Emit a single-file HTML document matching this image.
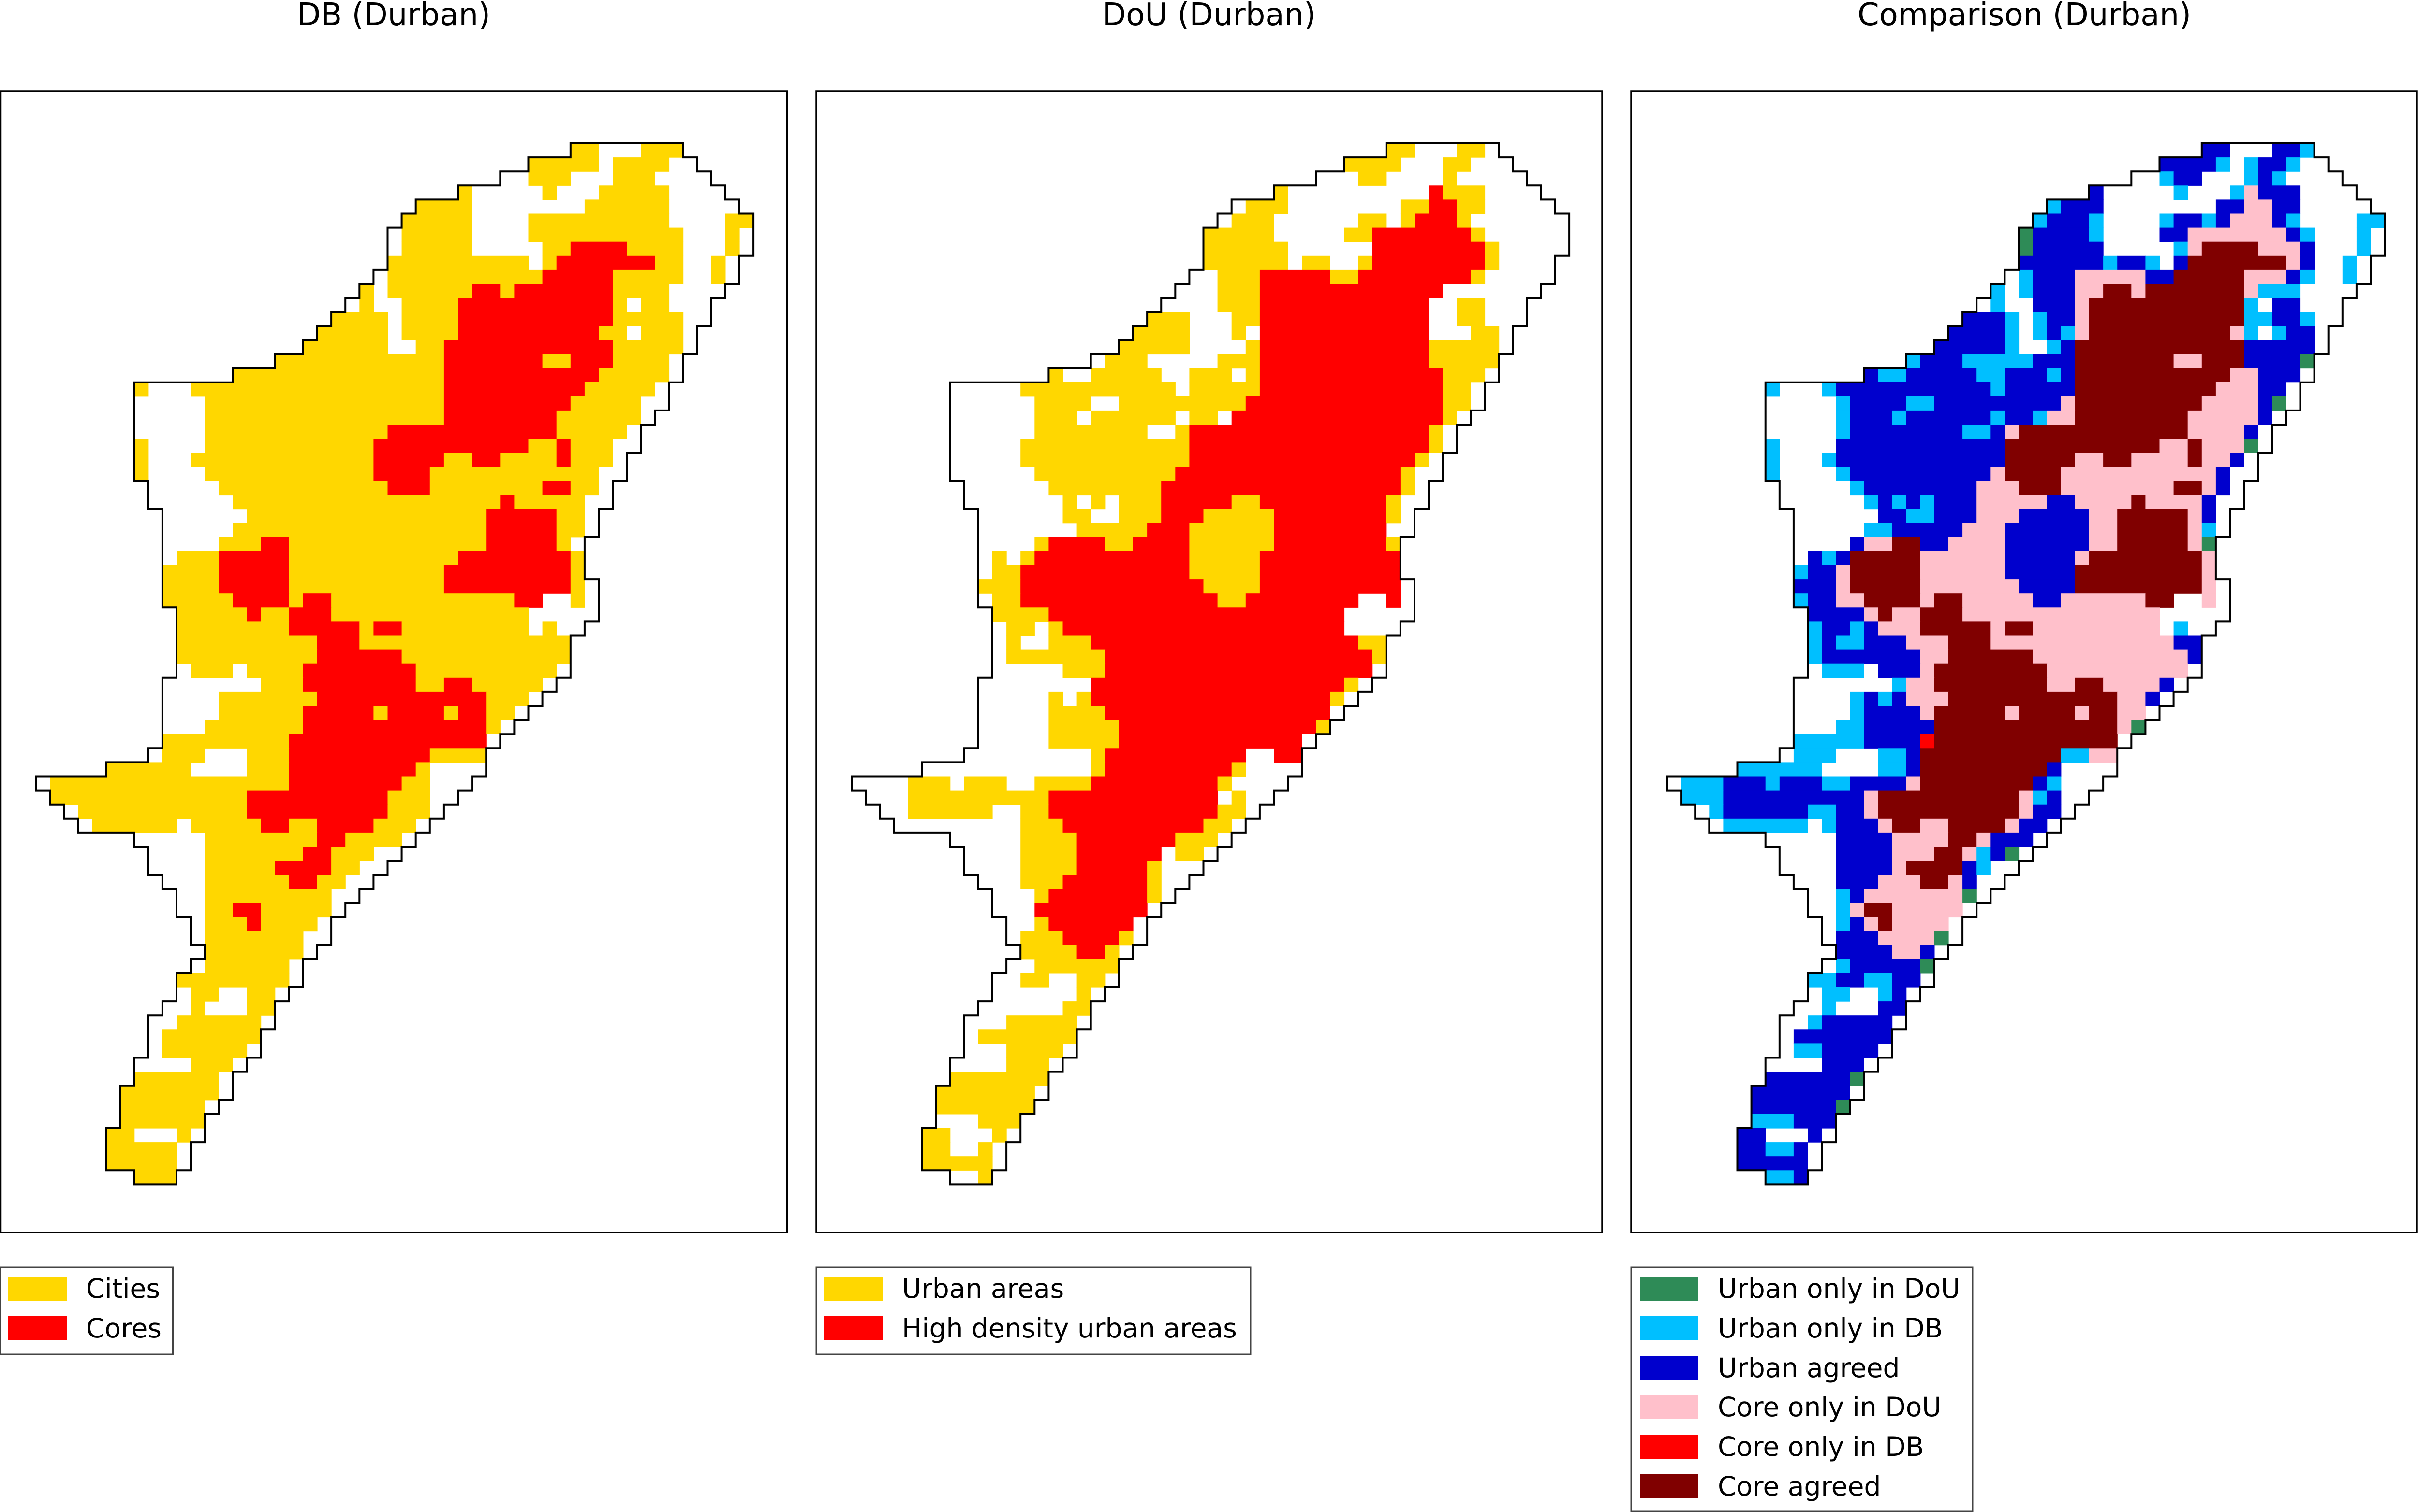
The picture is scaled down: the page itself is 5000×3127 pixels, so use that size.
<!DOCTYPE html>
<html><head><meta charset="utf-8"><style>
html,body{margin:0;padding:0;background:#fff;}
svg{display:block;font-family:"DejaVu Sans","Liberation Sans",sans-serif;}
</style></head><body>
<svg id="fig" width="5000" height="3127" viewBox="0 0 5000 3127" xmlns="http://www.w3.org/2000/svg">
<rect width="5000" height="3127" fill="#fff"/>
<text x="814" y="52" font-size="64" text-anchor="middle">DB (Durban)</text>
<text x="2500" y="52" font-size="64" text-anchor="middle">DoU (Durban)</text>
<text x="4186" y="52" font-size="64" text-anchor="middle">Comparison (Durban)</text>
<g id="p1"></g>
<g id="p2"></g>
<g id="p3"></g>
<rect x="1.5" y="189" width="1626" height="2360" fill="none" stroke="#000" stroke-width="3.5"/>
<rect x="1688" y="189" width="1625" height="2360" fill="none" stroke="#000" stroke-width="3.5"/>
<rect x="3373" y="189" width="1624" height="2360" fill="none" stroke="#000" stroke-width="3.5"/>

<g>
<rect x="1.5" y="2621" width="356" height="180" fill="#fff" stroke="#444" stroke-width="3"/>
<rect x="17" y="2640" width="122" height="50" fill="#FFD700"/>
<text x="178" y="2684" font-size="55">Cities</text>
<rect x="17" y="2722" width="122" height="50" fill="#FF0000"/>
<text x="178" y="2766" font-size="55">Cores</text>
</g>
<g>
<rect x="1688" y="2621" width="898" height="180" fill="#fff" stroke="#444" stroke-width="3"/>
<rect x="1704" y="2640" width="122" height="50" fill="#FFD700"/>
<text x="1865" y="2684" font-size="55">Urban areas</text>
<rect x="1704" y="2722" width="122" height="50" fill="#FF0000"/>
<text x="1865" y="2766" font-size="55">High density urban areas</text>
</g>
<g>
<rect x="3373" y="2621" width="706" height="504" fill="#fff" stroke="#444" stroke-width="3"/>
<rect x="3391" y="2640" width="121" height="50" fill="#2E8B57"/>
<text x="3552" y="2684" font-size="55">Urban only in DoU</text>
<rect x="3391" y="2722" width="121" height="50" fill="#00BFFF"/>
<text x="3552" y="2766" font-size="55">Urban only in DB</text>
<rect x="3391" y="2804" width="121" height="50" fill="#0000CD"/>
<text x="3552" y="2848" font-size="55">Urban agreed</text>
<rect x="3391" y="2885" width="121" height="50" fill="#FFC0CB"/>
<text x="3552" y="2929" font-size="55">Core only in DoU</text>
<rect x="3391" y="2967" width="121" height="50" fill="#FF0000"/>
<text x="3552" y="3011" font-size="55">Core only in DB</text>
<rect x="3391" y="3049" width="121" height="50" fill="#800000"/>
<text x="3552" y="3093" font-size="55">Core agreed</text>
</g>
</svg>
<script>
// Comparison classes per grid row: "<startCol><code><count>"
// w=inside-empty g=urban only DoU c=urban only DB b=urban agreed p=core only DoU r=core only DB m=core agreed
const rows = [
"38b2,40w3,43b2,45c1",
"35b4,39c1,40w1,41c1,42b2,44c1,45w2",
"33w2,35c1,36b2,38w3,41c1,42b1,43c1,44w4",
"30b1,31w5,36c1,37w3,40c1,41p1,42b3,45w4",
"27c1,28b3,31w8,39b2,41p2,43b2,45w5",
"26c1,27b3,30c1,31w4,35c1,36b2,38c1,39b1,40p3,43b1,44c1,45w4,49c2",
"25g1,26b4,30c1,31w4,35b2,37p7,44b1,45c1,46w3,49c1,50w1",
"25g1,26b5,31w5,36c1,37p1,38m4,42p3,45b1,46w3,49c1,50w1",
"25b6,31c1,32b2,34c1,35w1,36b1,37m7,44p1,45b1,46w2,48c1,49w1",
"24w1,25c1,26b3,29p5,34b2,36m5,41p3,44b1,45c1,46w2,48c1,49w1",
"23c1,24w1,25c1,26b3,29p2,31m2,33p1,34m7,41p1,42c3,45w4",
"22w1,23c1,24w2,26b3,29p1,30m11,41c1,42w1,43b2,45w3",
"21b3,24c1,25w1,26c1,27b2,29p1,30m11,41c2,43b2,45c1,46w2",
"20b4,24c1,25w1,26c1,27b1,28c1,29p1,30m10,40p1,41c1,42w1,43c1,44b2,46w1",
"19b5,24c1,25w2,27c1,28b1,29m12,41b5,46w1",
"17c1,18b3,21c5,26b3,29m7,36p2,38m3,41b4,45g1",
"14b1,15c2,17b5,22c2,24b3,27c1,28b1,29m11,40p2,42b3,45w1",
"7c1,8w3,11c1,12b11,23c1,24b5,29m10,39p3,42b2,44w1",
"7w5,12c1,13b4,17c2,19b9,28p1,29m9,38p4,42b1,43g1,44w1",
"7w5,12c1,13b3,16c1,17b6,23c1,24b2,26c1,27p2,29m8,37p5,42b1,43w1",
"7w5,12c1,13b8,21c2,23b1,24p1,25m12,37p4,41b1,42w1",
"7c1,8w4,12b12,24m11,35p2,37m1,38p3,41g1,42w1",
"7c1,8w3,11c1,12b12,24m5,29p2,31m2,33p4,37m1,38p2,40b1,41w1",
"7c1,8w4,12c1,13b10,23p1,24m4,28p11,39b1,40w2",
"8w5,13c1,14b8,22p3,25m3,28p8,36m2,38p1,39b1,40w1",
"8w6,14c1,15b1,16c1,17b1,18c1,19b3,22p5,27b2,29p4,33m1,34p4,38b1,39w2",
"9w6,15b2,17c2,19b3,22p3,25b5,30p2,32m5,37p1,38b1,39w1",
"9w5,14c2,16b5,21p3,24b6,30p2,32m5,37p1,38c1,39w1",
"9w4,13b1,14p2,16m2,18b2,20p4,24b6,30p2,32m5,37p1,38g1",
"9w1,10b1,11c1,12b1,13m5,18p6,24b5,29p1,30m8,38p1",
"9c1,10b2,12p1,13m5,18p6,24b5,29m9,38p1",
"9b3,12p1,13m5,18p7,25b4,29m9,38p1,39w1",
"9c1,10b2,12p2,14m4,18p1,19m2,21p5,26b2,28p6,34m2,36w2,38p1,39w1",
"10b4,14p1,15m1,16p2,18m3,21p14,35w5",
"10c1,11b2,13c1,14b1,15p3,18m5,23p1,24m2,26p9,35w1,36c1,37w2",
"10c1,11b1,12c2,14b3,17p3,20m3,23p13,36b2",
"10c1,11b7,18p2,20m6,26p11,37b1",
"10w1,11c3,14w1,15b3,18p1,19m8,27p10,37w1",
"9w7,16c1,17p2,19m8,27p2,29m2,31p4,35b1,36w1",
"9w4,13c1,14b1,15c1,16b1,17p3,20m12,32p2,34b1,35w1",
"9w4,13c1,14b4,18p1,19m5,24p1,25m4,29p1,30m2,32p2,34w1",
"9w3,12c2,14b5,19m13,32p1,33g1",
"9c5,14b4,18r1,19m13,32w1",
"8w1,9c3,12w3,15c2,17b1,18m10,28c2,30p2",
"5c6,11w4,15c2,17b1,18m9,27b1,28w4",
"0w1,1c3,4b3,7c1,8b3,11c2,13b4,17p1,18m8,26b1,27c1,28w3",
"1c3,4b10,14p1,15m10,25p1,26c1,27b1,28w2",
"2w1,3c1,4b6,10c2,12b2,14p1,15m10,25p1,26b2,28w1",
"3w1,4c6,10w1,11c1,12b3,15p1,16m2,18p2,20m4,24p1,25b2,27w1",
"7w5,12b4,16p4,20m2,22p1,23b3,26w1",
"8w4,12b4,16p3,19m2,21p1,22c1,23b1,24g1,25w1",
"8w4,12b4,16p1,17m4,21b1,22c1,23w2",
"9w3,12b3,15p3,18m2,20p1,21b1,22w2",
"10w2,12c1,13b1,14p7,21g1,22w1",
"10w2,12c1,13p1,14m2,16p5,21w1",
"11w1,12c1,13b1,14p1,15m1,16p4,20w1",
"11w1,12b3,15p4,19g1,20w1",
"12b4,16p2,18b1,19w1",
"11w1,12c1,13b5,18g1",
"10c2,12b2,14c2,16b2,18w1",
"10w1,11c2,13w2,15c1,16b1,17w1",
"9w2,11c1,12w3,15b2",
"8w2,10c1,11b5,16w1",
"8w1,9b7",
"8w1,9c2,11b4,15w1",
"7w4,11b3,14w1",
"7b6,13g1",
"6b7,13w1",
"6b6,12g1",
"6c3,9b3",
"5b2,7w3,10b1,11w1",
"5b2,7c2,9b1,10w1",
"5b5,10w1",
"7c2,9b1"
];
const NCOLS = 51;
const classColor = {w:'#FFFFFF', g:'#2E8B57', c:'#00BFFF', b:'#0000CD', p:'#FFC0CB', r:'#FF0000', m:'#800000'};
const dbColor = {w:'#FFFFFF', g:'#FFFFFF', c:'#FFD700', b:'#FFD700', p:'#FFD700', r:'#FF0000', m:'#FF0000'};
const douColor = {w:'#FFFFFF', g:'#FFD700', c:'#FFFFFF', b:'#FFD700', p:'#FF0000', r:'#FFD700', m:'#FF0000'};

const NS = 'http://www.w3.org/2000/svg';
const CELL = 29.1;
const GX0 = 74, GY0 = 296;
const panels = [
  {id:'p1', left:0, map:dbColor, name:'db'},
  {id:'p2', left:1687, map:douColor, name:'dou'},
  {id:'p3', left:3373, map:classColor, name:'comparison'}
];
const grid = rows.map(s => {
  const arr = new Array(NCOLS).fill('.');
  s.split(',').forEach(seg => {
    const m = seg.match(/^(\d+)([a-z])(\d+)$/);
    if (!m) return;
    const st = +m[1], n = +m[3];
    for (let i = 0; i < n; i++) arr[st + i] = m[2];
  });
  return arr;
});
function xs(left, c){ return left + GX0 + c * CELL; }
function ys(r){ return GY0 + r * CELL; }
function inside(r, c){ return r >= 0 && r < grid.length && c >= 0 && c < NCOLS && grid[r][c] !== '.'; }

panels.forEach(P => {
  const g = document.getElementById(P.id);
  grid.forEach((row, r) => {
    let c = 0;
    while (c < NCOLS) {
      const k = row[c];
      if (k === '.') { c++; continue; }
      const col = P.map[k];
      let e = c;
      while (e + 1 < NCOLS && row[e + 1] !== '.' && P.map[row[e + 1]] === col) e++;
      if (col !== '#FFFFFF') {
        const rc = document.createElementNS(NS, 'rect');
        rc.setAttribute('x', xs(P.left, c).toFixed(2));
        rc.setAttribute('y', ys(r).toFixed(2));
        rc.setAttribute('width', ((e - c + 1) * CELL + 0.6).toFixed(2));
        rc.setAttribute('height', (CELL + 0.6).toFixed(2));
        rc.setAttribute('fill', col);
        
        
        g.appendChild(rc);
      }
      c = e + 1;
    }
  });
  let d = '';
  for (let r = 0; r < grid.length; r++) {
    for (let c = 0; c < NCOLS; c++) {
      if (!inside(r, c)) continue;
      const x0 = xs(P.left, c), x1 = xs(P.left, c + 1), y0 = ys(r), y1 = ys(r + 1);
      if (!inside(r - 1, c)) d += `M${x0.toFixed(1)} ${y0.toFixed(1)}H${x1.toFixed(1)}`;
      if (!inside(r + 1, c)) d += `M${x0.toFixed(1)} ${y1.toFixed(1)}H${x1.toFixed(1)}`;
      if (!inside(r, c - 1)) d += `M${x0.toFixed(1)} ${y0.toFixed(1)}V${y1.toFixed(1)}`;
      if (!inside(r, c + 1)) d += `M${x1.toFixed(1)} ${y0.toFixed(1)}V${y1.toFixed(1)}`;
    }
  }
  const p = document.createElementNS(NS, 'path');
  p.setAttribute('d', d);
  p.setAttribute('fill', 'none');
  p.setAttribute('stroke', '#000');
  p.setAttribute('stroke-width', '4');
  p.setAttribute('stroke-linecap', 'square');
  
  
  g.appendChild(p);
});
</script>
</body></html>
